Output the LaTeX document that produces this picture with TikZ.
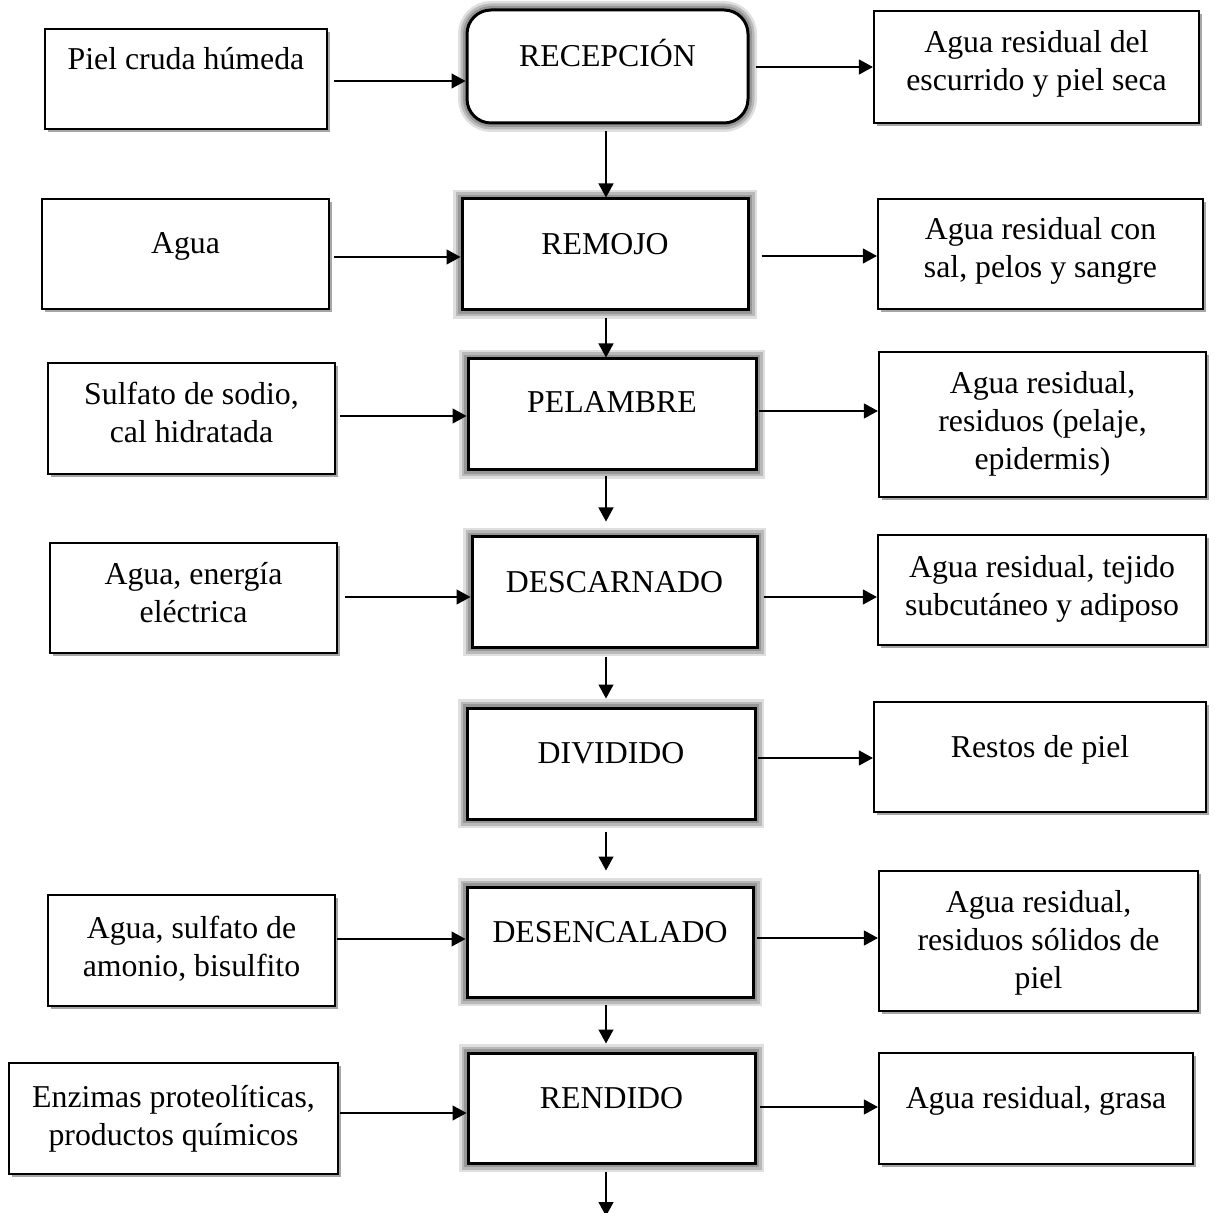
\documentclass[tikz,border=0pt]{standalone}
\usepackage{fontspec}
\setmainfont{Liberation Serif}
\usetikzlibrary{arrows.meta,shadows}
\newcommand\mybox[6]{\node[#6, minimum width={(#4-#2)*0.5pt}, minimum height={(#5-#3)*0.5pt}] (#1) at ({(#2+#4)/2},{(#3+#5)/2}) {};}
% #3 = baseline of the LAST line of the text, in px from the top
\newcommand\mytxt[4]{\node[txt] (#1) at (#2.center |- 0,#3) {#4};}
\newcommand\harr[4]{\draw[arr,shorten <=#4pt] (#1.east |- 0,#3) -- (#2.west |- 0,#3);}
\begin{document}
\begin{tikzpicture}[x=0.5pt,y=-0.5pt,
  sidebox/.style={draw=black, line width=1.1pt, fill=white, inner sep=0pt,
    drop shadow={shadow xshift=1.3pt, shadow yshift=-1.3pt, opacity=0.35, fill=black}},
  mainbox/.style={draw=black, line width=1.5pt, fill=white, inner sep=0pt,
    preaction={draw=black!50, line width=9pt, opacity=0.25},
    preaction={draw=black!50, line width=6.5pt, opacity=0.4},
    preaction={draw=black!50, line width=4pt, opacity=0.6}},
  roundbox/.style={mainbox, rounded corners=12pt},
  txt/.style={anchor=base, align=center, inner sep=0pt, font=\fontsize{15.9}{19}\selectfont},
  arr/.style={-{Triangle[length=7pt,width=7.5pt]}, line width=0.6pt}]
\useasboundingbox (0,0) rectangle (1215,1213);
\coordinate (vx) at (606,0);
% left input boxes
\mybox{L1}{45}{29}{327}{129}{sidebox}
\mybox{L2}{42}{199}{329}{309}{sidebox}
\mybox{L3}{48}{363}{335}{474}{sidebox}
\mybox{L4}{50}{543}{337}{653}{sidebox}
\mybox{L6}{48}{895}{335}{1006}{sidebox}
\mybox{L7}{9}{1063}{338}{1174}{sidebox}
% centre process boxes
\mybox{C1}{467}{10}{748}{123}{roundbox}
\mybox{C2}{462}{199}{748}{310}{mainbox}
\mybox{C3}{468}{359}{756}{470}{mainbox}
\mybox{C4}{472}{537}{757}{647}{mainbox}
\mybox{C5}{467}{708}{755}{819}{mainbox}
\mybox{C6}{467}{887}{753}{997}{mainbox}
\mybox{C7}{468}{1053}{755}{1163}{mainbox}
% right output boxes
\mybox{R1}{874}{11}{1199}{123}{sidebox}
\mybox{R2}{878}{199}{1203}{309}{sidebox}
\mybox{R3}{879}{352}{1206}{497}{sidebox}
\mybox{R4}{878}{535}{1206}{645}{sidebox}
\mybox{R5}{874}{702}{1206}{812}{sidebox}
\mybox{R6}{879}{871}{1198}{1011}{sidebox}
\mybox{R7}{879}{1053}{1193}{1164}{sidebox}
% texts
\mytxt{tL1}{L1}{70}{Piel cruda húmeda}
\mytxt{tL2}{L2}{254}{Agua}
\mytxt{tL3}{L3}{443}{Sulfato de sodio,\\cal hidratada}
\mytxt{tL4}{L4}{623}{Agua, energía\\eléctrica}
\mytxt{tL6}{L6}{976}{Agua, sulfato de\\amonio, bisulfito}
\mytxt{tL7}{L7}{1145}{Enzimas proteolíticas,\\productos químicos}
\mytxt{tC1}{C1}{67}{RECEPCIÓN}
\mytxt{tC2}{C2}{255}{REMOJO}
\mytxt{tC3}{C3}{413}{PELAMBRE}
\mytxt{tC4}{C4}{592}{DESCARNADO}
\mytxt{tC5}{C5}{763}{DIVIDIDO}
\mytxt{tC6}{C6}{942}{DESENCALADO}
\mytxt{tC7}{C7}{1108}{RENDIDO}
\mytxt{tR1}{R1}{91}{Agua residual del\\escurrido y piel seca}
\mytxt{tR2}{R2}{278}{Agua residual con\\sal, pelos y sangre}
\mytxt{tR3}{R3}{470}{Agua residual,\\residuos (pelaje,\\epidermis)}
\mytxt{tR4}{R4}{615}{Agua residual, tejido\\subcutáneo y adiposo}
\mytxt{tR5}{R5}{757}{Restos de piel}
\mytxt{tR6}{R6}{988}{Agua residual,\\residuos sólidos de\\piel}
\mytxt{tR7}{R7}{1108}{Agua residual, grasa}
% horizontal arrows
\harr{L1}{C1}{81}{3}
\harr{C1}{R1}{67}{3}
\harr{L2}{C2}{257}{2}
\harr{C2}{R2}{256}{6}
\harr{L3}{C3}{416}{2}
\harr{C3}{R3}{411}{0.5}
\harr{L4}{C4}{597}{3.5}
\harr{C4}{R4}{597}{2.5}
\harr{C5}{R5}{758}{0.5}
\harr{L6}{C6}{939}{0.5}
\harr{C6}{R6}{938}{1}
\harr{L7}{C7}{1113}{0.5}
\harr{C7}{R7}{1107}{1.5}
% vertical arrows
\draw[arr,shorten <=3.5pt] (C1.south -| vx) -- (C2.north -| vx);
\draw[arr,shorten <=3.5pt] (C2.south -| vx) -- (C3.north -| vx);
\draw[arr,shorten <=2.5pt,shorten >=7pt] (C3.south -| vx) -- (C4.north -| vx);
\draw[arr,shorten <=4pt,shorten >=4pt] (C4.south -| vx) -- (C5.north -| vx);
\draw[arr,shorten <=5.5pt,shorten >=7.5pt] (C5.south -| vx) -- (C6.north -| vx);
\draw[arr,shorten <=3pt,shorten >=4pt] (C6.south -| vx) -- (C7.north -| vx);
\coordinate (vend) at (606,1216);
\draw[arr,shorten <=3.5pt] (C7.south -| vx) -- (vend);
\end{tikzpicture}
\end{document}
